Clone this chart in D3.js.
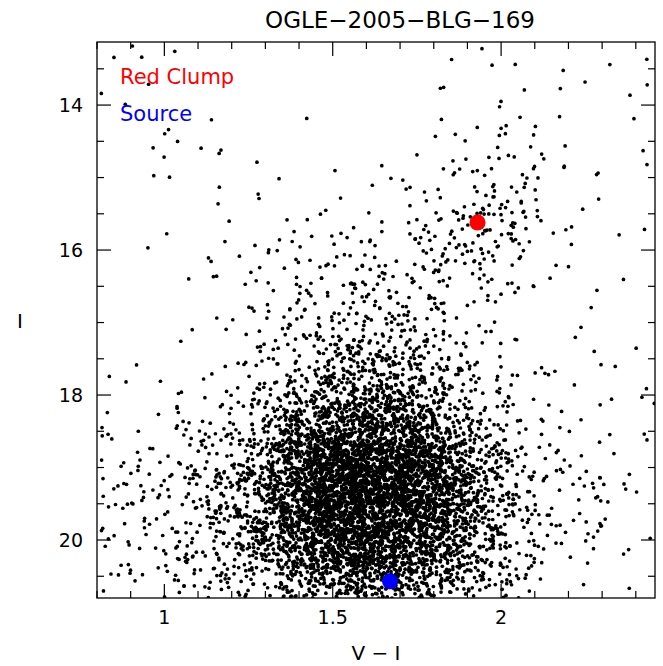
<!DOCTYPE html>
<html><head><meta charset="utf-8">
<script src="https://cdn.jsdelivr.net/npm/d3@7"></script>
<style>body{margin:0;background:#fff}text{font-family:"DejaVu Sans",sans-serif}</style>
</head><body><svg id="c" width="663" height="666"></svg>
<script>
// Star counts per cell: colour bins of 0.1 from 0.8, magnitude bins of 0.5 from 13.0
const colorBins = [0.8,0.9,1.0,1.1,1.2,1.3,1.4,1.5,1.6,1.7,1.8,1.9,2.0,2.1,2.2,2.3,2.4];
const magBins = [13.0,13.5,14.0,14.5,15.0,15.5,16.0,16.5,17.0,17.5,18.0,18.5,19.0,19.5,20.0,20.5];
const starCounts = [
  [1,2,0,0,0,0,0,0,0,0,1,1,1,1,1,0,1],
  [1,1,1,0,0,0,0,0,0,1,1,1,1,1,1,1,1],
  [1,1,2,1,0,0,1,0,0,1,2,4,5,1,1,1,2],
  [0,1,2,2,1,0,0,0,1,1,4,7,6,2,1,1,1],
  [0,1,1,3,2,1,2,2,2,4,10,18,14,4,1,1,1],
  [0,0,1,2,3,3,4,5,5,8,16,26,20,6,1,1,1],
  [0,1,0,2,4,6,9,10,12,16,14,10,6,2,1,1,1],
  [0,0,1,2,4,9,14,18,20,15,8,5,2,1,1,1,0],
  [0,1,1,2,5,12,20,30,34,22,12,5,2,1,1,1,1],
  [1,1,2,3,9,20,40,60,64,48,26,10,5,2,2,1,1],
  [2,2,4,7,16,44,90,125,125,100,54,22,9,4,2,2,2],
  [6,6,10,20,40,100,180,240,240,195,110,46,18,8,4,3,2],
  [10,10,14,30,58,135,235,290,290,235,145,64,24,10,6,4,2],
  [10,10,16,30,58,125,220,265,265,220,140,64,26,10,6,4,2],
  [8,10,12,22,38,72,135,170,170,135,86,42,17,8,4,3,1],
  [4,5,6,10,18,34,62,75,75,62,38,17,8,3,2,1,1]
];
const markers = [
  {name:"Red Clump", vi:1.93, i:15.62, color:"#ff0000"},
  {name:"Source", vi:1.67, i:20.57, color:"#0000ff"}
];
const xTicks = [1, 1.5, 2];
const yTicks = [14, 16, 18, 20];
const title = "OGLE\u22122005\u2212BLG\u2212169";

const svg = d3.select("#c");
const L = 97, R = 655, T = 42, B = 598;
const x = d3.scaleLinear().domain([0.8, 2.457]).range([L, R]);
const y = d3.scaleLinear().domain([13.13, 20.8]).range([T, B]);

// place each cell's stars at hashed positions with a tent spread around the cell centre,
// so neighbouring cells blend smoothly
function hash(n) {
  let h = Math.imul(n ^ 0x9e3779b9, 0x85ebca6b);
  h ^= h >>> 13; h = Math.imul(h, 0xc2b2ae35); h ^= h >>> 16;
  return (h >>> 0) / 4294967296;
}
const stars = [];
let k = 1;
starCounts.forEach((row, ri) => row.forEach((n, ci) => {
  for (let j = 0; j < n; j++, k++) {
    const vi = colorBins[ci] + 0.05 + 0.1 * (hash(4 * k) + hash(4 * k + 1) - 1);
    const mag = magBins[ri] + 0.25 + 0.5 * (hash(4 * k + 2) + hash(4 * k + 3) - 1);
    if (vi >= 0.8 && vi <= 2.457 && mag >= 13.1 && mag <= 20.8) stars.push([vi, mag]);
  }
}));

svg.append("defs").append("clipPath").attr("id", "clip")
  .append("rect").attr("x", L).attr("y", T).attr("width", R - L).attr("height", B - T);
svg.append("g").attr("clip-path", "url(#clip)").selectAll("circle").data(stars).join("circle")
  .attr("cx", d => x(d[0])).attr("cy", d => y(d[1])).attr("r", 1.85).attr("fill", "#000");

svg.selectAll("circle.m").data(markers).join("circle").attr("class", "m")
  .attr("cx", d => x(d.vi)).attr("cy", d => y(d.i)).attr("r", 8).attr("fill", d => d.color);

svg.append("rect").attr("x", L).attr("y", T).attr("width", R - L).attr("height", B - T)
  .attr("fill", "none").attr("stroke", "#000").attr("stroke-width", 1.3);

// inside ticks on all four sides
const tg = svg.append("g").attr("stroke", "#000").attr("stroke-width", 1.2);
d3.range(0.8, 2.46, 0.1).forEach(v => {
  const major = xTicks.some(t => Math.abs(t - v) < 1e-6), len = major ? 14 : 7;
  tg.append("line").attr("x1", x(v)).attr("x2", x(v)).attr("y1", B).attr("y2", B - len);
  tg.append("line").attr("x1", x(v)).attr("x2", x(v)).attr("y1", T).attr("y2", T + len);
});
d3.range(13.5, 20.8, 0.5).forEach(v => {
  const major = yTicks.some(t => Math.abs(t - v) < 1e-6), len = major ? 14 : 7;
  tg.append("line").attr("y1", y(v)).attr("y2", y(v)).attr("x1", L).attr("x2", L + len);
  tg.append("line").attr("y1", y(v)).attr("y2", y(v)).attr("x1", R).attr("x2", R - len);
});

svg.selectAll("text.xt").data(xTicks).join("text").attr("class", "xt")
  .attr("x", d => x(d)).attr("y", B + 26).attr("text-anchor", "middle").attr("font-size", 19).text(d => d);
svg.selectAll("text.yt").data(yTicks).join("text").attr("class", "yt")
  .attr("x", L - 14).attr("y", d => y(d) + 7).attr("text-anchor", "end").attr("font-size", 19).text(d => d);

svg.append("text").attr("x", (L + R) / 2).attr("y", 660).attr("text-anchor", "middle").attr("font-size", 20).text("V \u2212 I");
svg.append("text").attr("x", 20).attr("y", 328).attr("text-anchor", "middle").attr("font-size", 20).text("I");
svg.append("text").attr("x", 400).attr("y", 28).attr("text-anchor", "middle").attr("font-size", 23).text(title);
svg.selectAll("text.lg").data(markers).join("text").attr("class", "lg")
  .attr("x", 120).attr("y", (d, i) => 84 + i * 37).attr("font-size", 21).attr("fill", d => d.color).text(d => d.name);
</script></body></html>
